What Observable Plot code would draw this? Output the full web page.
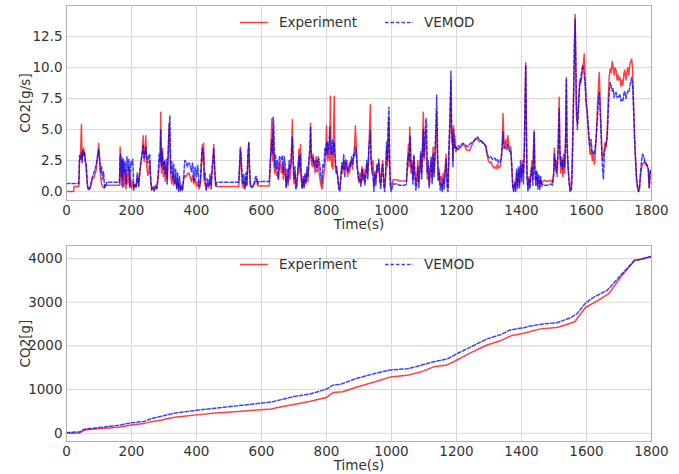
<!DOCTYPE html>
<html><head><meta charset="utf-8">
<script src="https://cdn.jsdelivr.net/npm/d3@7"></script>
<script src="https://cdn.jsdelivr.net/npm/@observablehq/plot@0.6"></script>
<style>
body{margin:0;background:#fff;font-family:"DejaVu Sans",sans-serif;}
#wrap{position:relative;width:679px;height:474px;overflow:hidden;}
#wrap > div.panel{position:absolute;left:0;}
.legend{position:absolute;left:0;top:0;pointer-events:none;}
</style></head>
<body><div id="wrap"></div>
<script>
// ---- data ----
const timeTicks = [0,200,400,600,800,1000,1200,1400,1600,1800];
const rateTicks = [0,2.5,5,7.5,10,12.5];
const massTicks = [0,1000,2000,3000,4000];
const seriesNames = ["Experiment","VEMOD"];

// [time (s), Experiment CO2 (g/s), VEMOD CO2 (g/s)]
const co2RateRows = [
[0,0,0.65],[22,0,0.65],[23,0.4,0.65],[38,0.4,0.65],[40,2.4,2.9],[43,3.0,2.6],[46,5.4,3.1],[48,2.6,2.3],[50,3.2,3.3],[53,3.5,2.9],
[56,2.8,3.2],[58,2.5,2.4],[61,1.6,2.2],[64,0.6,0.5],[67,0.3,0.1],[70,0.2,0.2],[73,0.3,0.3],[76,0.6,0.8],[80,1.0,1.2],[84,1.1,1.5],
[88,1.4,1.8],[92,1.8,2.3],[96,2.8,3.0],[99,3.9,3.4],[102,2.6,2.5],[105,1.2,1.5],[108,0.6,2.0],[111,0.4,1.0],[114,0.3,1.6],[117,0.3,0.3],
[120,0.5,0.4],[124,0.5,0.75],[163,0.5,0.75],[165,3.6,2.8],[167,1.8,3.0],[169,0.5,1.2],[171,2.5,2.7],[173,1.0,0.3],[175,2.3,2.6],[177,0.4,1.5],
[180,1.8,2.4],[183,0.2,0.6],[186,1.5,2.8],[189,0.6,1.6],[192,2.0,2.6],[195,0.3,0.4],[198,1.0,2.4],[201,0.2,2.2],[204,0.8,2.6],[207,0.3,0.1],
[210,0.5,0.6],[214,0.4,0.3],[218,1.2,1.5],[222,0.5,0.4],[226,1.5,1.8],[230,2.6,2.5],[233,3.0,3.2],[236,4.5,3.8],[239,2.4,2.7],[242,3.3,3.0],
[244,4.5,3.6],[247,2.0,2.8],[250,1.3,2.3],[253,1.5,2.9],[256,2.5,3.0],[259,0.8,1.2],[262,0.2,0.1],[266,0.4,0.3],[270,0.2,0.0],[274,0.5,0.4],
[278,0.3,0.2],[282,1.0,1.5],[285,2.0,3.0],[288,2.5,2.4],[290,6.4,5.0],[292,1.5,2.0],[295,3.5,3.2],[298,1.2,1.8],[301,2.4,2.5],[304,0.8,1.4],
[307,2.0,2.6],[310,1.0,0.6],[313,3.0,3.4],[316,5.5,5.2],[318,3.3,6.1],[321,1.2,1.5],[324,0.6,2.4],[327,1.5,1.0],[330,0.5,2.2],[333,1.2,0.6],
[336,0.8,1.8],[339,0.3,0.2],[342,1.0,1.5],[345,0.2,0.0],[348,0.6,1.2],[351,0.1,0.0],[354,0.4,0.5],[357,0.2,0.1],[360,0.9,1.0],[364,1.3,2.5],
[368,1.2,2.4],[372,1.4,2.0],[376,1.5,2.3],[380,1.2,2.2],[384,0.8,1.6],[388,1.3,2.3],[392,0.6,0.8],[396,1.1,2.0],[400,0.4,1.2],[404,0.8,2.1],
[408,0.2,0.4],[412,0.5,0.8],[415,2.0,2.6],[418,3.8,3.5],[420,2.4,3.3],[422,3.9,2.8],[424,0.8,1.0],[427,0.5,1.5],[430,0.2,0.1],[434,0.6,1.0],
[438,0.3,0.5],[442,1.0,1.4],[445,0.4,0.2],[448,1.5,2.0],[451,2.5,2.8],[453,3.8,3.5],[456,1.5,2.0],[459,0.6,0.4],[462,0.4,0.75],[530,0.4,0.75],
[533,2.0,2.4],[535,3.6,3.4],[537,2.8,3.0],[540,0.7,1.5],[543,0.3,0.6],[546,0.8,1.4],[549,0.3,0.2],[552,1.0,1.5],[555,0.6,0.4],[558,2.5,3.0],
[561,3.9,4.0],[563,1.5,2.2],[566,0.4,0.5],[570,0.5,0.3],[574,0.4,0.4],[578,0.6,0.8],[582,0.8,1.2],[585,1.0,1.2],[588,0.5,0.6],[592,0.45,0.8],
[624,0.45,0.8],[627,2.0,2.5],[630,4.5,3.5],[632,5.9,4.2],[634,2.5,3.0],[636,5.0,6.0],[638,3.2,5.4],[640,1.5,2.0],[643,2.2,3.0],[646,1.3,1.8],
[649,1.5,2.5],[652,1.0,1.0],[655,2.0,2.8],[658,2.5,2.8],[661,1.5,2.6],[664,2.2,2.9],[667,1.0,1.5],[670,2.0,2.8],[673,1.3,2.2],[676,0.4,0.3],
[679,1.2,1.8],[682,0.5,0.8],[685,2.0,2.5],[688,1.0,1.8],[691,2.5,2.2],[693,4.0,3.5],[695,5.8,4.4],[697,2.5,3.0],[700,0.6,1.0],[703,1.5,2.0],
[706,0.3,0.2],[709,0.8,0.5],[712,1.5,1.8],[715,3.4,2.8],[717,1.5,2.0],[720,3.8,3.0],[722,1.0,1.5],[725,0.3,0.2],[728,1.0,1.2],[731,0.4,0.3],
[734,1.2,1.5],[737,0.6,0.8],[740,1.5,2.0],[743,0.8,1.2],[746,2.3,2.8],[749,3.0,3.6],[751,5.5,5.2],[753,2.5,3.2],[756,2.0,2.5],[759,3.0,2.7],
[762,2.2,2.0],[765,1.5,2.5],[768,2.8,2.4],[771,2.0,1.6],[774,2.5,2.8],[777,1.5,2.6],[780,1.0,2.0],[783,0.5,1.2],[786,0.2,0.6],[789,0.6,2.2],
[792,1.5,2.0],[795,2.0,3.5],[798,3.0,3.0],[800,5.3,3.8],[802,3.4,4.0],[804,2.5,3.0],[806,3.8,3.5],[808,3.0,4.0],[810,2.5,5.2],[812,7.7,3.6],
[814,3.5,3.0],[816,2.0,3.4],[818,3.2,4.2],[820,1.8,3.0],[822,5.3,3.8],[824,7.7,4.0],[826,2.5,3.0],[829,1.5,2.0],[832,2.0,1.5],[835,0.8,1.2],
[838,0.3,0.2],[841,0.2,0.0],[844,1.2,1.0],[847,2.0,2.3],[850,1.5,1.8],[853,2.5,3.0],[856,1.8,1.2],[859,2.6,2.2],[862,2.0,2.5],[865,1.2,1.6],
[868,2.0,1.8],[871,1.5,2.3],[874,2.3,2.0],[877,2.5,2.8],[880,1.8,2.2],[883,2.6,3.0],[886,3.5,2.8],[889,5.3,3.6],[891,4.1,3.4],[894,2.5,2.0],
[897,1.2,1.5],[900,0.7,0.9],[903,1.5,1.0],[906,0.6,0.4],[909,2.0,1.8],[912,1.2,0.9],[915,1.8,1.4],[918,0.8,0.5],[921,1.6,1.2],[924,2.2,2.5],
[927,1.4,1.0],[930,3.0,3.5],[933,5.5,4.2],[935,7.0,4.9],[937,3.0,2.5],[940,1.5,1.8],[943,2.5,1.2],[946,0.5,0.0],[949,1.6,1.4],[952,1.0,0.5],
[955,2.2,2.0],[958,1.5,1.8],[961,2.4,2.6],[964,1.2,0.8],[967,0.6,0.2],[970,1.8,1.6],[973,2.5,2.2],[976,1.0,0.5],[979,0.3,0.0],[982,1.5,1.2],
[985,3.5,4.0],[988,2.0,2.5],[990,5.0,5.5],[992,6.0,6.8],[994,2.5,3.0],[996,1.0,0.4],[999,0.3,0.0],[1002,0.6,0.3],[1005,0.95,0.6],[1020,0.95,0.6],
[1022,0.85,0.5],[1040,0.85,0.5],[1046,0.85,0.6],[1049,2.0,2.4],[1052,3.8,3.0],[1054,2.0,2.5],[1056,5.2,4.0],[1058,3.5,4.5],[1060,1.5,2.0],[1063,2.5,2.2],
[1066,1.0,0.6],[1069,2.8,3.0],[1072,1.5,1.2],[1075,0.5,0.1],[1078,1.2,0.6],[1081,2.5,2.0],[1084,0.8,0.3],[1087,2.0,1.5],[1090,3.0,3.2],[1093,1.5,1.0],
[1096,4.5,3.8],[1098,6.4,5.0],[1100,2.5,2.8],[1103,3.5,4.5],[1106,5.0,5.9],[1108,3.0,5.5],[1110,1.0,1.5],[1113,2.0,2.5],[1116,0.5,0.3],[1119,1.8,1.5],
[1122,2.5,2.8],[1125,1.0,0.6],[1128,3.6,3.0],[1131,1.5,1.2],[1134,2.5,3.5],[1137,4.5,5.5],[1139,6.5,7.8],[1141,3.0,4.5],[1144,1.0,0.8],[1147,1.8,1.5],
[1150,0.5,0.1],[1153,1.2,0.6],[1156,0.3,0.0],[1159,1.5,1.0],[1162,0.6,0.2],[1165,1.8,1.5],[1168,3.0,2.6],[1171,1.0,0.3],[1174,0.3,0.0],[1177,3.0,4.0],
[1180,5.5,6.0],[1183,9.0,9.7],[1185,4.0,5.0],[1187,5.0,4.5],[1189,2.5,2.0],[1191,5.3,5.0],[1193,3.5,4.0],[1195,4.5,3.5],[1198,3.2,3.6],[1202,3.5,3.4],
[1206,3.4,3.7],[1210,3.5,3.6],[1215,3.6,3.8],[1220,3.8,3.9],[1225,3.7,3.8],[1230,3.4,3.7],[1235,3.3,3.6],[1240,3.3,3.8],[1245,3.6,3.9],[1250,3.9,4.0],
[1255,4.1,4.1],[1260,4.3,4.3],[1265,4.2,4.4],[1270,4.0,4.2],[1275,4.1,4.1],[1280,3.9,4.0],[1285,3.9,3.8],[1290,3.6,3.7],[1294,3.0,3.1],[1298,2.5,2.8],
[1302,2.3,2.7],[1306,2.4,2.8],[1310,2.1,2.6],[1314,1.9,2.6],[1318,2.0,2.7],[1322,1.8,2.5],[1326,2.2,2.6],[1330,1.9,2.3],[1334,2.0,2.4],[1338,2.6,2.8],
[1341,4.0,3.8],[1343,6.3,4.8],[1346,4.0,3.5],[1349,3.5,3.6],[1352,4.2,3.5],[1355,3.6,3.4],[1358,4.5,3.8],[1361,3.8,3.4],[1364,3.4,3.2],[1367,3.6,3.3],
[1370,2.2,2.0],[1373,0.6,0.3],[1376,0.1,0.0],[1379,0.8,0.6],[1382,0.3,0.0],[1385,1.5,1.8],[1388,0.5,0.2],[1391,1.8,2.0],[1394,0.6,0.3],[1397,2.0,2.5],
[1400,1.2,0.8],[1403,2.5,2.2],[1406,1.5,0.6],[1409,3.5,4.0],[1411,7.0,7.5],[1413,10.4,10.2],[1415,5.0,5.5],[1417,1.5,1.0],[1420,0.4,0.0],[1423,1.2,1.0],
[1426,0.5,0.2],[1429,1.4,1.5],[1432,2.5,2.0],[1435,1.0,0.5],[1437,3.5,3.2],[1439,4.9,4.8],[1441,2.0,1.6],[1444,0.8,0.4],[1447,1.5,1.7],[1450,0.5,0.2],
[1453,1.2,1.4],[1456,0.4,0.1],[1459,1.0,1.2],[1462,0.6,0.4],[1465,0.8,0.6],[1470,0.9,0.5],[1480,0.8,0.5],[1490,0.9,0.6],[1495,0.7,0.5],[1499,1.5,1.2],
[1501,3.5,3.0],[1504,1.8,2.5],[1507,2.5,1.5],[1510,1.2,2.0],[1513,4.0,3.5],[1516,7.6,6.7],[1518,3.0,3.5],[1521,1.5,2.0],[1524,2.8,2.5],[1527,1.2,1.8],
[1530,2.5,3.0],[1533,1.5,2.0],[1536,5.0,4.5],[1538,9.2,9.0],[1540,3.5,4.0],[1543,2.0,2.5],[1546,1.0,0.8],[1549,0.3,0.0],[1552,0.2,0.0],[1555,1.5,0.5],
[1558,5.0,4.0],[1561,9.0,8.5],[1563,12.0,11.5],[1565,14.3,13.9],[1567,10.0,11.0],[1569,6.0,7.0],[1572,5.5,5.0],[1575,7.0,6.5],[1579,9.0,8.5],[1583,8.8,9.3],
[1588,9.8,10.2],[1591,10.5,9.8],[1593,11.1,9.5],[1596,9.0,8.5],[1599,7.5,7.0],[1602,6.5,6.5],[1605,5.0,5.5],[1608,4.0,4.4],[1611,3.0,3.6],[1614,3.5,4.2],
[1618,2.5,3.0],[1621,3.0,3.2],[1624,2.2,3.0],[1627,3.0,3.6],[1630,4.5,4.5],[1634,7.0,6.0],[1637,8.5,7.5],[1639,9.6,8.0],[1642,7.5,6.5],[1645,5.0,4.5],
[1648,3.0,2.5],[1650,2.5,1.6],[1652,3.0,1.0],[1655,3.5,3.0],[1658,4.0,3.6],[1661,3.6,3.9],[1664,5.0,4.5],[1667,7.5,6.5],[1670,9.3,8.0],[1673,9.9,8.8],
[1676,9.6,8.5],[1679,10.5,8.1],[1682,10.0,8.3],[1685,9.4,7.6],[1688,10.0,7.9],[1691,9.8,8.0],[1694,9.0,7.6],[1697,9.4,7.7],[1700,9.0,7.6],[1703,9.2,7.8],
[1706,8.5,7.3],[1709,9.0,7.4],[1712,8.6,7.3],[1715,9.5,7.9],[1718,9.8,8.1],[1721,9.0,7.5],[1724,9.6,7.8],[1727,10.0,8.1],[1730,9.4,8.0],[1733,10.2,8.4],
[1736,10.5,8.8],[1739,10.7,9.2],[1742,9.8,8.6],[1745,7.0,6.5],[1748,4.3,4.3],[1751,2.5,2.6],[1754,1.0,1.0],[1757,0.4,0.3],[1760,0.0,0.0],[1763,0.3,0.2],
[1766,1.2,1.5],[1769,1.8,2.4],[1772,2.2,3.0],[1775,2.3,2.9],[1778,2.4,2.6],[1781,2.2,2.3],[1784,2.3,2.2],[1787,2.0,2.1],[1790,1.8,1.9],[1793,0.3,0.3],
[1796,1.5,1.6],[1800,1.8,1.8]
];

// cumulative CO2 [time (s), grams]
const co2MassExperiment = [
[0,0],[20,0],[40,5],[50,50],[60,80],[100,100],[160,135],[200,190],[240,225],[260,265],[290,295],[320,350],[340,370],
[400,420],[460,465],[540,505],[630,555],[650,590],[700,660],[750,730],[800,820],[820,930],[850,950],[894,1060],[950,1180],
[997,1290],[1048,1325],[1089,1400],[1130,1520],[1171,1565],[1197,1660],[1243,1840],[1294,2020],[1335,2120],[1371,2240],
[1407,2290],[1458,2390],[1509,2420],[1540,2490],[1565,2560],[1576,2680],[1597,2880],[1633,3030],[1669,3200],[1705,3570],
[1748,3960],[1766,3980],[1800,4050]
];
const co2MassVemod = [
[0,15],[40,30],[55,90],[100,130],[160,180],[200,240],[240,270],[260,335],[330,455],[400,525],[460,575],[540,640],[630,715],
[700,840],[750,900],[800,1010],[820,1100],[843,1120],[894,1260],[945,1360],[997,1450],[1048,1475],[1089,1550],[1120,1620],
[1171,1700],[1212,1860],[1253,2010],[1294,2160],[1335,2255],[1366,2370],[1407,2415],[1427,2455],[1468,2505],[1509,2530],
[1551,2645],[1571,2740],[1597,2980],[1623,3120],[1664,3275],[1705,3615],[1748,3960],[1761,3975],[1800,4050]
];

// ---- tables for Plot ----
const rateExp = co2RateRows.map(r => ({t: r[0], v: r[1]}));
const rateVem = co2RateRows.map(r => ({t: r[0], v: r[2]}));
const massExp = co2MassExperiment.map(r => ({t: r[0], v: r[1]}));
const massVem = co2MassVemod.map(r => ({t: r[0], v: r[1]}));

const RED = "#ff0000", BLUE = "#0000ff";
const FONT = "'DejaVu Sans', sans-serif";
const TXT = "#333333";
const gridStyle = {stroke: "#d9d9d9", strokeOpacity: 1, strokeWidth: 1.1};

function panel({height, marginBottom, yDomain, yTicks, yFormat, yLabel, expData, vemData}) {
  return Plot.plot({
    width: 679, height,
    marginLeft: 66, marginRight: 28, marginTop: 5, marginBottom,
    style: {fontFamily: FONT, fontSize: "13.5px", color: TXT, background: "white", overflow: "visible"},
    x: {domain: [0, 1800]},
    y: {domain: yDomain},
    marks: [
      Plot.gridX(timeTicks, gridStyle),
      Plot.gridY(yTicks, gridStyle),
      Plot.axisX(timeTicks, {tickSize: 0, tickPadding: 5, label: null, tickFormat: d => String(d), fontSize: 13.5, fill: TXT}),
      Plot.axisY(yTicks, {tickSize: 0, tickPadding: 4, label: null, tickFormat: yFormat, fontSize: 13.5, fill: TXT}),
      Plot.line(expData, {x: "t", y: "v", stroke: RED, strokeWidth: 1.5, strokeOpacity: 0.75}),
      Plot.line(vemData, {x: "t", y: "v", stroke: BLUE, strokeWidth: 1.5, strokeOpacity: 0.75, strokeDasharray: "3.5,2"}),
      Plot.frame({stroke: "#b3b3b3", strokeWidth: 1.1}),
      Plot.text(["Time(s)"], {frameAnchor: "bottom", lineAnchor: "middle", dy: 24, text: d => d, fontSize: 13.5, fill: TXT}),
      Plot.text([yLabel], {frameAnchor: "left", textAnchor: "middle", lineAnchor: "middle", dx: -41, rotate: -90, text: d => d, fontSize: 13.5, fill: TXT})
    ]
  });
}

const topChart = panel({
  height: 240, marginBottom: 40, yDomain: [-0.73, 15.02], yTicks: rateTicks,
  yFormat: d => d.toFixed(1), yLabel: "CO2[g/s]", expData: rateExp, vemData: rateVem
});
const bottomChart = panel({
  height: 234, marginBottom: 33, yDomain: [-190, 4300], yTicks: massTicks,
  yFormat: d => String(d), yLabel: "CO2[g]", expData: massExp, vemData: massVem
});

const wrap = document.getElementById("wrap");
function place(node, top) {
  const d = document.createElement("div");
  d.className = "panel";
  d.style.top = top + "px";
  d.appendChild(node);
  wrap.appendChild(d);
}
place(topChart, 0);
place(bottomChart, 240);

// legends (one per panel, inside the plot area)
function legend(cy) {
  const svg = d3.create("svg").attr("class", "legend").attr("width", 679).attr("height", 474)
    .style("font-family", FONT).style("font-size", "13.5px");
  const items = [
    {name: seriesNames[0], color: RED, dash: null, x: 240},
    {name: seriesNames[1], color: BLUE, dash: "3.5,2", x: 385}
  ];
  for (const it of items) {
    svg.append("line").attr("x1", it.x).attr("x2", it.x + 28).attr("y1", cy).attr("y2", cy)
      .attr("stroke", it.color).attr("stroke-width", 1.5).attr("stroke-opacity", 0.75)
      .attr("stroke-dasharray", it.dash);
    svg.append("text").attr("x", it.x + 39).attr("y", cy).attr("dy", "0.35em")
      .attr("fill", TXT).text(it.name);
  }
  return svg.node();
}
wrap.appendChild(legend(22.5));
wrap.appendChild(legend(264.5));
</script></body></html>
